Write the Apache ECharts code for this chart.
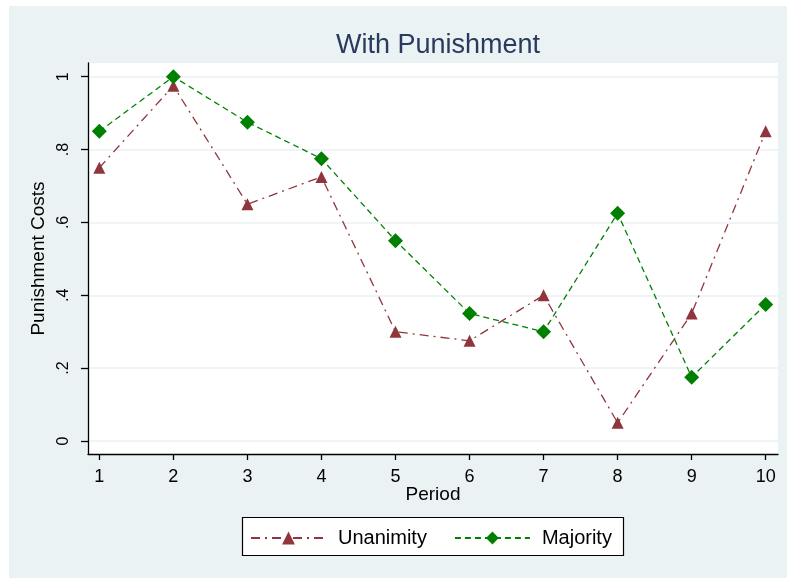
<!DOCTYPE html>
<html><head><meta charset="utf-8">
<script src="https://cdn.jsdelivr.net/npm/echarts@6/dist/echarts.min.js"></script>
<style>html,body{margin:0;padding:0;background:#fff}#c{width:787px;height:579px}</style>
</head><body><div id="c"></div>
<script>
const periods = [1,2,3,4,5,6,7,8,9,10];
const unanimity = [0.75,0.975,0.65,0.725,0.30,0.275,0.40,0.05,0.35,0.85];
const majority = [0.85,1.0,0.875,0.775,0.55,0.35,0.30,0.625,0.175,0.375];
const yTicks = [0,0.2,0.4,0.6,0.8,1];
const xTicks = periods;

const chart = echarts.init(document.getElementById('c'));
const font = 'Liberation Sans, Arial, sans-serif';
const fmtY = v => { if (Math.abs(v) < 1e-9) return '0'; if (Math.abs(v-1) < 1e-9) return '1'; return String(+v.toFixed(2)).replace(/^0/, ''); };

chart.setOption({
  animation: false,
  backgroundColor: '#ffffff',
  graphic: [
    { type: 'rect', z: -10, silent: true, shape: { x: 9, y: 6, width: 778, height: 572 }, style: { fill: '#eaf2f3' } },
    { type: 'rect', z: -9, silent: true, shape: { x: 88, y: 63, width: 690, height: 391 }, style: { fill: '#ffffff' } },
    { type: 'rect', z: 5, silent: true, shape: { x: 242.5, y: 517.5, width: 381, height: 38 }, style: { fill: '#ffffff', stroke: '#000', lineWidth: 1.2 } }
  ],
  title: {
    text: 'With Punishment', left: 433, top: 27, textAlign: 'center',
    textStyle: { fontFamily: font, fontSize: 27, fontWeight: 'normal', color: '#2a3a5e' }
  },
  grid: { left: 88, right: 9, top: 63, bottom: 125, containLabel: false },
  xAxis: {
    type: 'value', min: 0.847, max: 10.166,
    name: 'Period', nameLocation: 'middle', nameGap: 31, nameMoveOverlap: false,
    nameTextStyle: { fontFamily: font, fontSize: 19, color: '#000' },
    axisLine: { show: true, onZero: false, lineStyle: { color: '#000', width: 1.3 } },
    axisTick: { show: true, length: 6, customValues: xTicks, lineStyle: { color: '#000', width: 1.3 } },
    axisLabel: { customValues: xTicks, fontFamily: font, fontSize: 18, color: '#000', margin: 14 },
    splitLine: { show: false }
  },
  yAxis: {
    type: 'value', min: -0.0357, max: 1.0376,
    name: 'Punishment Costs', nameLocation: 'middle', nameGap: 39, nameRotate: 90,
    nameTextStyle: { fontFamily: font, fontSize: 19, color: '#000' },
    axisLine: { show: true, onZero: false, lineStyle: { color: '#000', width: 1.3 } },
    axisTick: { show: true, length: 7, customValues: yTicks, lineStyle: { color: '#000', width: 1.3 } },
    axisLabel: { customValues: yTicks, rotate: 90, fontFamily: font, fontSize: 16, color: '#000', margin: 16, formatter: fmtY },
    splitLine: { show: true, lineStyle: { color: '#eaf2f3', width: 1.5 } }
  },
  legend: {
    left: 245, top: 523, itemWidth: 75, itemHeight: 16, itemGap: 27,
    textStyle: { fontFamily: font, fontSize: 20, color: '#000', padding: [0,0,0,7] },
    z: 6,
    data: ['Unanimity', 'Majority']
  },
  series: [
    {
      name: 'Unanimity', type: 'line',
      data: periods.map((p,i) => [p, unanimity[i]]),
      symbol: 'triangle', symbolSize: 12,
      itemStyle: { color: '#90353b' },
      lineStyle: { color: '#90353b', width: 1.3, type: [9,5,2,5] }
    },
    {
      name: 'Majority', type: 'line',
      data: periods.map((p,i) => [p, majority[i]]),
      symbol: 'diamond', symbolSize: 15,
      itemStyle: { color: '#008000' },
      lineStyle: { color: '#008000', width: 1.3, type: [6,4] }
    }
  ]
});
</script></body></html>
